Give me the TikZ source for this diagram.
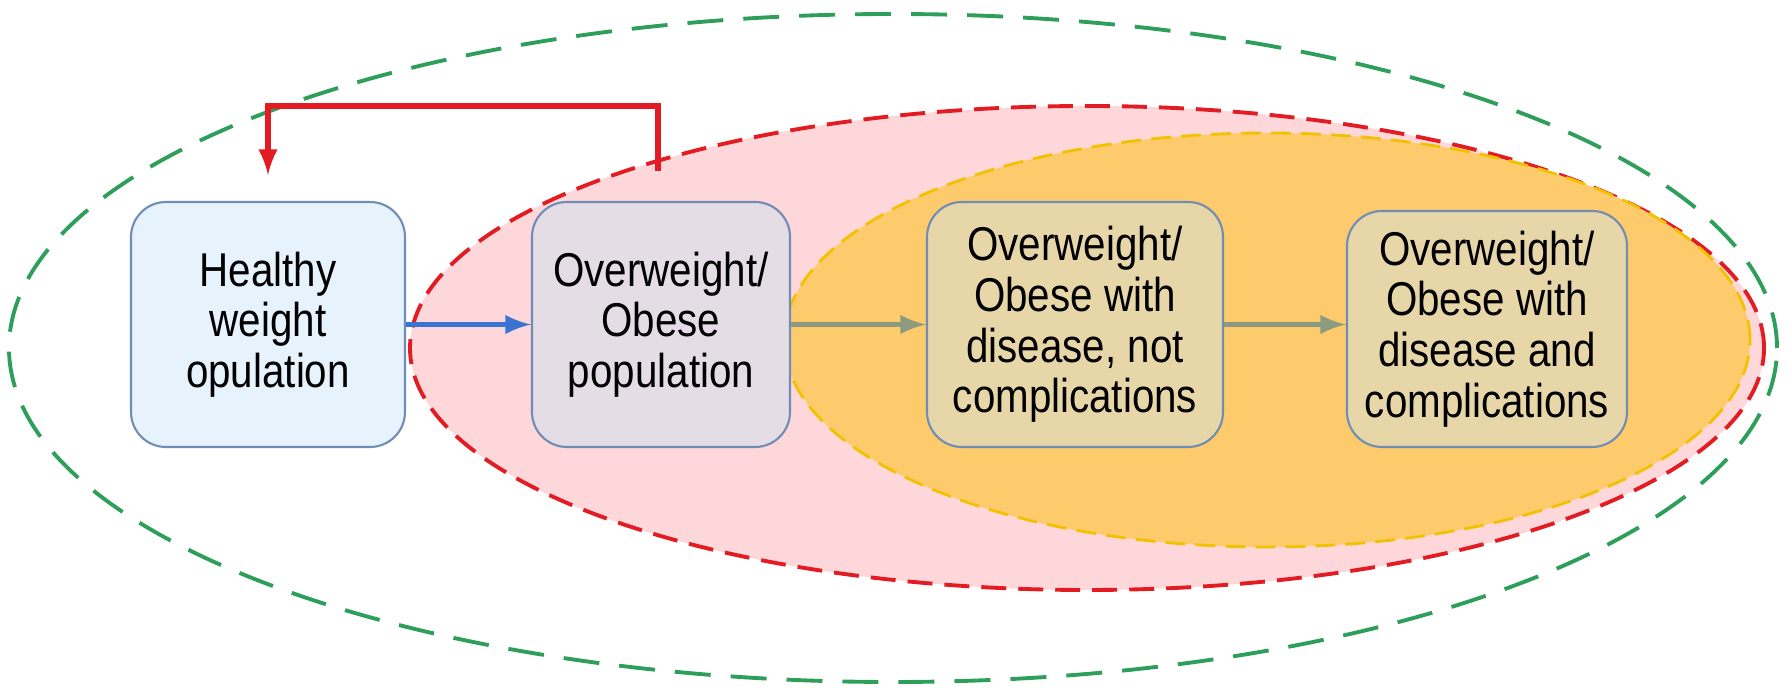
\documentclass[tikz,border=0pt]{standalone}
\usepackage{fontspec}
\setmainfont{Liberation Sans}[FakeStretch=0.85]
\definecolor{outergreen}{HTML}{2E9E5B}
\definecolor{riskred}{HTML}{E31B23}
\definecolor{riskpink}{HTML}{FDD7DA}
\definecolor{disorange}{HTML}{FDCB6B}
\definecolor{disline}{HTML}{F2C200}
\definecolor{boxline}{HTML}{6F8DB5}
\definecolor{healthyfill}{HTML}{E6F3FC}
\definecolor{obesefill}{HTML}{E5DDE6}
\definecolor{diseasefill}{HTML}{E7D7A8}
\definecolor{flowblue}{HTML}{3A74D2}
\definecolor{flowgrey}{HTML}{8C9A80}
\begin{document}
\begin{tikzpicture}
    [
        stage/.style={rectangle, rounded corners=0.35cm, draw=boxline, line width=0.6pt, align=center, minimum height=2.45cm, inner sep=2pt, font=\fontsize{13.5}{14.4}\selectfont},
        edge/.style={-latex, line width=1.5pt},
    ]
    \useasboundingbox (0,0) rectangle (17.87,6.93);

    % groups
    \draw [outergreen, line width=1.1pt, dash pattern=on 0.36cm off 0.2cm] (8.93,3.45) ellipse [x radius=8.84, y radius=3.34];
    \draw [riskred, fill=riskpink, line width=1.1pt, dash pattern=on 0.25cm off 0.12cm] (10.87,3.45) ellipse [x radius=6.77, y radius=2.42];
    \draw [disline, fill=disorange, line width=0.8pt, dash pattern=on 0.2cm off 0.1cm] (12.67,3.53) ellipse [x radius=4.83, y radius=2.07];

    % stages
    \node (healthy) at (2.68,3.685)  [stage, fill=healthyfill, minimum width=2.74cm] {Healthy\\weight\\opulation};
    \node (obese)   at (6.61,3.685)  [stage, fill=obesefill, minimum width=2.58cm] {Overweight/\\Obese\\population};
    \node (disease) at (10.75,3.685) [stage, fill=diseasefill, minimum width=2.96cm] {Overweight/\\Obese with\\disease, not\\complications};
    \node (complic) at (14.87,3.64)  [stage, fill=diseasefill, minimum width=2.80cm, minimum height=2.36cm] {Overweight/\\Obese with\\disease and\\complications};
    \coordinate (back) at (6.58,5.22);

    % flows
    \draw [edge, flowblue] (healthy) -- (obese);
    \draw [edge, flowgrey] (obese) -- (disease);
    \draw [edge, flowgrey] (disease) -- (disease -| complic.west);
    \draw [edge, riskred, shorten >=0.26cm] (back) -- ++(0,0.65) -| (healthy.north);

\end{tikzpicture}
\end{document}
